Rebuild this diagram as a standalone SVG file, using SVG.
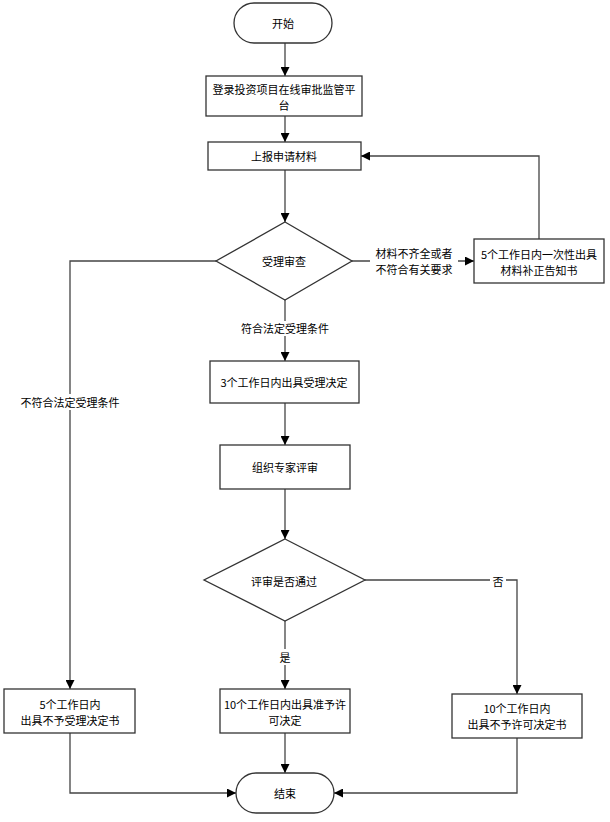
<svg xmlns="http://www.w3.org/2000/svg" width="610" height="822" viewBox="0 0 610 822">
<style>
.n{fill:#fff;stroke:#333;stroke-width:1.3}
.t{font-family:"Noto Sans CJK SC","Noto Sans",sans-serif;font-size:11px;fill:#000;text-anchor:middle;dominant-baseline:central}
.c{fill:none;stroke:#444;stroke-width:1.3}
.bg{fill:#fff}
</style>
<defs>
<marker id="a" viewBox="0 0 10 10" refX="10" refY="5" markerWidth="9" markerHeight="9" markerUnits="userSpaceOnUse" orient="auto">
<path d="M0,0 L10,5 L0,10 z" fill="#000"/>
</marker>
</defs>
<rect width="610" height="822" fill="#fff"/>
<g id="connectors">
<path class="c" d="M285,43 V76" marker-end="url(#a)"/>
<path class="c" d="M285,116 V142" marker-end="url(#a)"/>
<path class="c" d="M285,170 V222" marker-end="url(#a)"/>
<path class="c" d="M352,261 H474" marker-end="url(#a)"/>
<path class="c" d="M539,239 V156 H361" marker-end="url(#a)"/>
<path class="c" d="M216,261 H70 V689" marker-end="url(#a)"/>
<path class="c" d="M285,300 V361" marker-end="url(#a)"/>
<path class="c" d="M285,403 V445" marker-end="url(#a)"/>
<path class="c" d="M285,489 V539" marker-end="url(#a)"/>
<path class="c" d="M365,580 H517 V694" marker-end="url(#a)"/>
<path class="c" d="M285,621 V689" marker-end="url(#a)"/>
<path class="c" d="M70,733 V793 H236" marker-end="url(#a)"/>
<path class="c" d="M517,738 V793 H334" marker-end="url(#a)"/>
<path class="c" d="M285,733 V773" marker-end="url(#a)"/>
<rect class="bg" x="370" y="245" width="88" height="32"/>
<text class="t" x="414" y="253">材料不齐全或者</text>
<text class="t" x="414" y="269">不符合有关要求</text>
<rect class="bg" x="238" y="321" width="94" height="15"/>
<text class="t" x="285" y="328">符合法定受理条件</text>
<rect class="bg" x="20" y="394" width="100" height="16"/>
<text class="t" x="70" y="402">不符合法定受理条件</text>
<rect class="bg" x="490" y="573" width="16" height="16"/>
<text class="t" x="498" y="581">否</text>
<rect class="bg" x="277" y="649" width="16" height="16"/>
<text class="t" x="285" y="657">是</text>
</g>
<g id="start">
<rect class="n" x="234" y="3" width="98" height="40" rx="20" ry="20"/>
<text class="t" x="283" y="23">开始</text>
</g>
<g id="login">
<rect class="n" x="206" y="76" width="156" height="40"/>
<text class="t" x="284" y="88.5">登录投资项目在线审批监管平</text>
<text class="t" x="284" y="104.5">台</text>
</g>
<g id="submit">
<rect class="n" x="208" y="142" width="153" height="28"/>
<text class="t" x="284" y="156">上报申请材料</text>
</g>
<g id="review">
<polygon class="n" points="285,222 352,261 285,300 216,261"/>
<text class="t" x="284" y="261">受理审查</text>
</g>
<g id="notice">
<rect class="n" x="474" y="239" width="130" height="44"/>
<text class="t" x="539" y="253.5">5个工作日内一次性出具</text>
<text class="t" x="539" y="269.5">材料补正告知书</text>
</g>
<g id="accept">
<rect class="n" x="210" y="361" width="149" height="42"/>
<text class="t" x="284" y="382">3个工作日内出具受理决定</text>
</g>
<g id="expert">
<rect class="n" x="220" y="445" width="130" height="44"/>
<text class="t" x="285" y="467">组织专家评审</text>
</g>
<g id="pass">
<polygon class="n" points="285,539 365,580 285,621 204,580"/>
<text class="t" x="284" y="581">评审是否通过</text>
</g>
<g id="reject1">
<rect class="n" x="4" y="689" width="131" height="44"/>
<text class="t" x="70" y="703.5">5个工作日内</text>
<text class="t" x="70" y="719.5">出具不予受理决定书</text>
</g>
<g id="grant">
<rect class="n" x="220" y="689" width="130" height="44"/>
<text class="t" x="285" y="703.5">10个工作日内出具准予许</text>
<text class="t" x="285" y="719.5">可决定</text>
</g>
<g id="reject2">
<rect class="n" x="452" y="694" width="130" height="44"/>
<text class="t" x="517" y="708">10个工作日内</text>
<text class="t" x="517" y="724">出具不予许可决定书</text>
</g>
<g id="end">
<rect class="n" x="236" y="773" width="98" height="40" rx="20" ry="20"/>
<text class="t" x="285" y="793">结束</text>
</g>
</svg>
